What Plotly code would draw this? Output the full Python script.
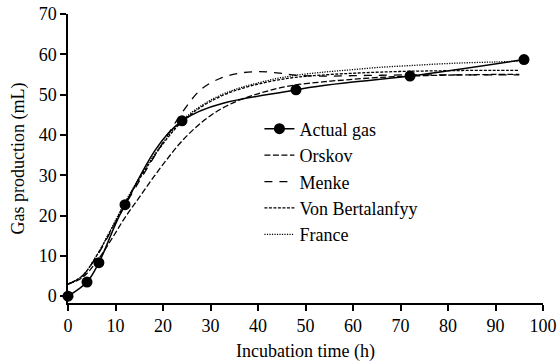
import plotly.graph_objects as go

# Observed data
actual_t = [0, 4, 6.5, 12, 24, 48, 72, 96]
actual_y = [0, 3.5, 8.3, 22.7, 43.5, 51.2, 54.6, 58.7]

# Fitted model curves
fit_t = [0, 3, 6, 9, 12, 15, 18, 21, 24, 28, 32, 36, 40, 44, 48, 54, 60, 66, 72, 78, 84, 90, 95]
orskov_y = [3.0, 4.6, 8.5, 13.8, 19.5, 24.5, 29.5, 34.2, 38.5, 43.0, 46.3, 48.6, 50.2, 51.5, 52.4, 53.2, 53.8, 54.3, 54.6, 54.8, 54.9, 55.0, 55.0]
menke_y = [3.0, 5.0, 9.8, 16.0, 22.5, 28.5, 34.3, 40.0, 45.5, 51.3, 54.0, 55.3, 55.7, 55.4, 54.8, 54.6, 54.7, 54.8, 54.9, 54.9, 54.9, 54.9, 54.9]
vonb_y = [3.0, 5.0, 10.0, 16.3, 23.0, 29.0, 34.5, 39.3, 43.3, 46.9, 49.5, 51.3, 52.6, 53.6, 54.3, 54.9, 55.3, 55.6, 55.8, 55.9, 56.0, 56.0, 56.0]
france_y = [3.0, 5.0, 10.0, 16.5, 23.3, 29.3, 34.8, 39.6, 43.6, 47.2, 49.8, 51.6, 52.9, 54.0, 54.8, 55.6, 56.2, 56.8, 57.2, 57.6, 57.9, 58.1, 58.3]

x_ticks = [0, 10, 20, 30, 40, 50, 60, 70, 80, 90, 100]
y_ticks = [0, 10, 20, 30, 40, 50, 60, 70]

FONT = "Liberation Serif"

fig = go.Figure()
fig.add_trace(go.Scatter(x=actual_t, y=actual_y, mode="lines+markers", name="Actual gas",
                         line=dict(color="black", width=1.5, shape="spline", smoothing=1),
                         marker=dict(color="black", size=11), cliponaxis=False))
fig.add_trace(go.Scatter(x=fit_t, y=orskov_y, mode="lines", name="Orskov",
                         line=dict(color="black", width=1.3, dash="6px,2.5px", shape="spline")))
fig.add_trace(go.Scatter(x=fit_t, y=menke_y, mode="lines", name="Menke",
                         line=dict(color="black", width=1.3, dash="8px,7px", shape="spline")))
fig.add_trace(go.Scatter(x=fit_t, y=vonb_y, mode="lines", name="Von Bertalanfyy",
                         line=dict(color="black", width=1.3, dash="3px,1.5px", shape="spline")))
fig.add_trace(go.Scatter(x=fit_t, y=france_y, mode="lines", name="France",
                         line=dict(color="black", width=1.3, dash="1.2px,1.3px", shape="spline")))

fig.update_layout(
    width=557, height=362,
    margin=dict(l=68, r=14, t=14, b=59, autoexpand=False),
    paper_bgcolor="white", plot_bgcolor="white",
    font=dict(family=FONT, size=18, color="black"),
    showlegend=True,
    legend=dict(x=0.403, y=0.666, xanchor="left", yanchor="top",
                bgcolor="rgba(0,0,0,0)", font=dict(size=18, family=FONT),
                tracegroupgap=0),
    xaxis=dict(range=[0, 100], tickvals=x_ticks, showline=True, linecolor="black", linewidth=1.5,
               ticks="outside", ticklen=6, tickwidth=1.5, tickcolor="black", showgrid=False, zeroline=False,
               automargin=False, ticklabeloverflow="allow",
               title=dict(text="Incubation time (h)", font=dict(size=18, family=FONT), standoff=10),
               tickfont=dict(size=18, family=FONT)),
    yaxis=dict(range=[-1.7, 70], tickvals=y_ticks, showline=True, linecolor="black", linewidth=1.5,
               ticks="outside", ticklen=6, tickwidth=1.5, tickcolor="black", showgrid=False, zeroline=False,
               automargin=False, ticklabeloverflow="allow",
               title=dict(text="Gas production (mL)", font=dict(size=18, family=FONT), standoff=9),
               tickfont=dict(size=18, family=FONT)),
)

fig.write_html("out.html", config={"displayModeBar": False},
               post_script="document.body.style.margin='0';document.body.style.overflow='hidden';")
